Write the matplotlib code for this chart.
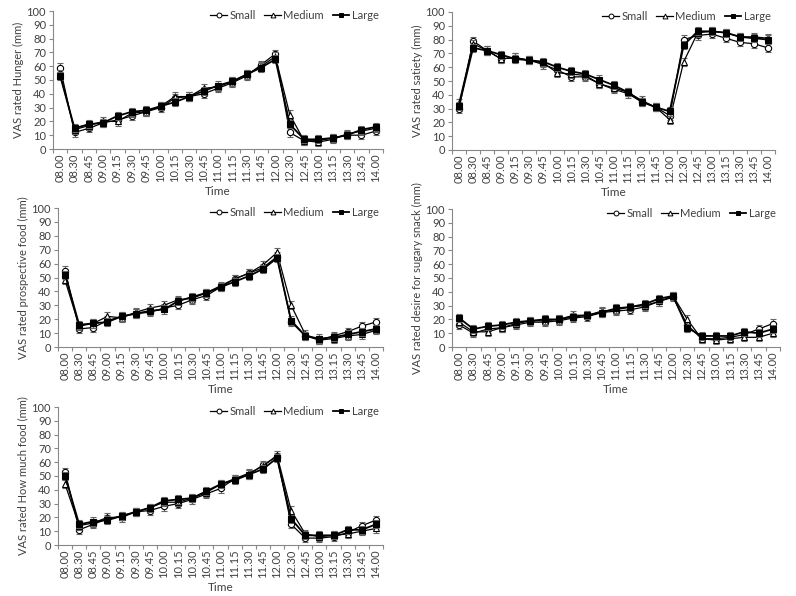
import matplotlib
matplotlib.use("Agg")
import matplotlib.pyplot as plt
from matplotlib.lines import Line2D
import numpy as np

plt.rcParams['font.family'] = ['Lato', 'DejaVu Sans']

times = ["08.00", "08.30", "08.45", "09.00", "09.15", "09.30", "09.45", "10.00",
         "10.15", "10.30", "10.45", "11.00", "11.15", "11.30", "11.45", "12.00",
         "12.30", "12.45", "13.00", "13.15", "13.30", "13.45", "14.00"]

hunger_small = [59, 12, 15, 19, 21, 24, 27, 30, 37, 38, 40, 44, 48, 53, 61, 69, 12, 6, 6, 8, 10, 10, 13]
hunger_medium = [54, 14, 17, 20, 20, 26, 27, 31, 38, 38, 44, 45, 49, 54, 60, 67, 25, 6, 5, 7, 11, 13, 15]
hunger_large = [53, 15, 18, 19, 24, 27, 28, 31, 34, 38, 42, 46, 49, 54, 59, 65, 18, 7, 7, 8, 10, 14, 16]

satiety_small = [30, 79, 72, 66, 67, 65, 62, 58, 53, 53, 48, 44, 41, 35, 31, 25, 80, 83, 84, 81, 78, 77, 74]
satiety_medium = [34, 77, 72, 66, 67, 65, 63, 56, 55, 54, 48, 45, 42, 36, 31, 22, 64, 85, 86, 85, 82, 82, 81]
satiety_large = [32, 74, 72, 69, 66, 65, 64, 60, 57, 55, 51, 47, 42, 35, 31, 28, 76, 86, 86, 85, 82, 81, 80]

prosp_small = [55, 13, 14, 19, 22, 24, 25, 28, 30, 34, 37, 43, 49, 53, 57, 65, 18, 8, 5, 8, 11, 15, 18]
prosp_medium = [48, 15, 17, 22, 21, 25, 28, 30, 34, 35, 39, 44, 49, 53, 59, 68, 30, 9, 5, 6, 8, 9, 12]
prosp_large = [52, 16, 17, 18, 22, 24, 26, 27, 33, 36, 39, 43, 47, 51, 56, 64, 19, 8, 6, 7, 9, 11, 13]

sugary_small = [16, 10, 13, 14, 16, 18, 18, 19, 21, 22, 25, 26, 27, 29, 33, 36, 16, 6, 6, 7, 9, 13, 17]
sugary_medium = [18, 11, 11, 14, 17, 19, 19, 20, 23, 23, 26, 27, 29, 30, 33, 37, 20, 6, 5, 6, 7, 7, 10]
sugary_large = [21, 13, 15, 16, 18, 19, 20, 20, 22, 23, 25, 28, 29, 31, 35, 37, 14, 8, 8, 8, 11, 10, 13]

much_small = [53, 11, 15, 19, 21, 24, 25, 28, 30, 33, 37, 41, 48, 51, 58, 64, 15, 5, 5, 6, 9, 14, 18]
much_medium = [44, 14, 16, 20, 20, 24, 27, 31, 31, 34, 38, 44, 48, 52, 57, 65, 25, 8, 6, 7, 8, 10, 12]
much_large = [50, 15, 17, 18, 21, 24, 27, 32, 33, 34, 39, 44, 47, 51, 55, 63, 19, 7, 7, 7, 11, 11, 15]

err_small = 3
err_medium = 3
err_large = 3

ylabels = ["VAS rated Hunger (mm)", "VAS rated satiety (mm)",
           "VAS rated prospective food (mm)", "VAS rated desire for sugary snack (mm)",
           "VAS rated How much food (mm)"]
series = [
    (hunger_small, hunger_medium, hunger_large),
    (satiety_small, satiety_medium, satiety_large),
    (prosp_small, prosp_medium, prosp_large),
    (sugary_small, sugary_medium, sugary_large),
    (much_small, much_medium, much_large),
]

W, H = 796, 596
fig = plt.figure(figsize=(W / 100, H / 100), dpi=100)
boxes = [
    (53, 383, 11, 149),
    (452, 775, 12, 150),
    (58, 383, 208, 347),
    (452, 780, 209, 347),
    (58, 383, 407, 545),
]
tc = '#404040'
ac = '#888888'
fs = 8
x = np.arange(len(times))
styles = [
    dict(marker='o', mfc='white', lw=0.9, label='Small'),
    dict(marker='^', mfc='white', lw=0.9, label='Medium'),
    dict(marker='s', mfc='black', lw=1.3, label='Large'),
]
errs = [err_small, err_medium, err_large]
for (l, r, t, b), lab, vals in zip(boxes, ylabels, series):
    ax = fig.add_axes([l / W, 1 - b / H, (r - l) / W, (b - t) / H])
    for k, (v, st, e) in enumerate(zip(vals, styles, errs)):
        ax.errorbar(x, v, yerr=e, color='black', lw=st['lw'], ecolor='#666666', elinewidth=0.8,
                    capsize=2, capthick=0.8, marker=st['marker'], ms=4.5, mfc=st['mfc'],
                    mec='black', mew=0.8, zorder=3 + k)
    ax.set_xlim(-0.5, len(times) - 0.5)
    ax.set_ylim(0, 100)
    ax.set_yticks(range(0, 101, 10))
    ax.set_xticks(x)
    ax.set_xticklabels(times, rotation=90, fontsize=fs, color=tc)
    ax.set_xticks(np.arange(-0.5, len(times)), minor=True)
    ax.tick_params(axis='x', which='major', length=0, pad=3)
    ax.tick_params(axis='x', which='minor', length=3, color=ac, width=0.8)
    ax.tick_params(axis='y', length=3, color=ac, width=0.8, labelsize=fs, labelcolor=tc, pad=2)
    for sp in ['top', 'right']:
        ax.spines[sp].set_visible(False)
    for sp in ['left', 'bottom']:
        ax.spines[sp].set_color(ac)
        ax.spines[sp].set_linewidth(0.8)
    ax.set_xlabel('Time', fontsize=fs + 0.5, color=tc, labelpad=3)
    ax.set_ylabel(lab, fontsize=fs, color=tc, labelpad=2)
    handles = [Line2D([], [], color='black', lw=st['lw'], marker=st['marker'], ms=3.5,
                      mfc=st['mfc'], mec='black', mew=0.7) for st in styles]
    ax.legend(handles, [st['label'] for st in styles], loc='upper right', ncol=3,
              frameon=False, fontsize=fs, labelcolor=tc, handlelength=1.5,
              handletextpad=0.2, columnspacing=0.8, borderaxespad=0,
              bbox_to_anchor=(1.0, 1.04))

fig.savefig('out.png', dpi=100)
